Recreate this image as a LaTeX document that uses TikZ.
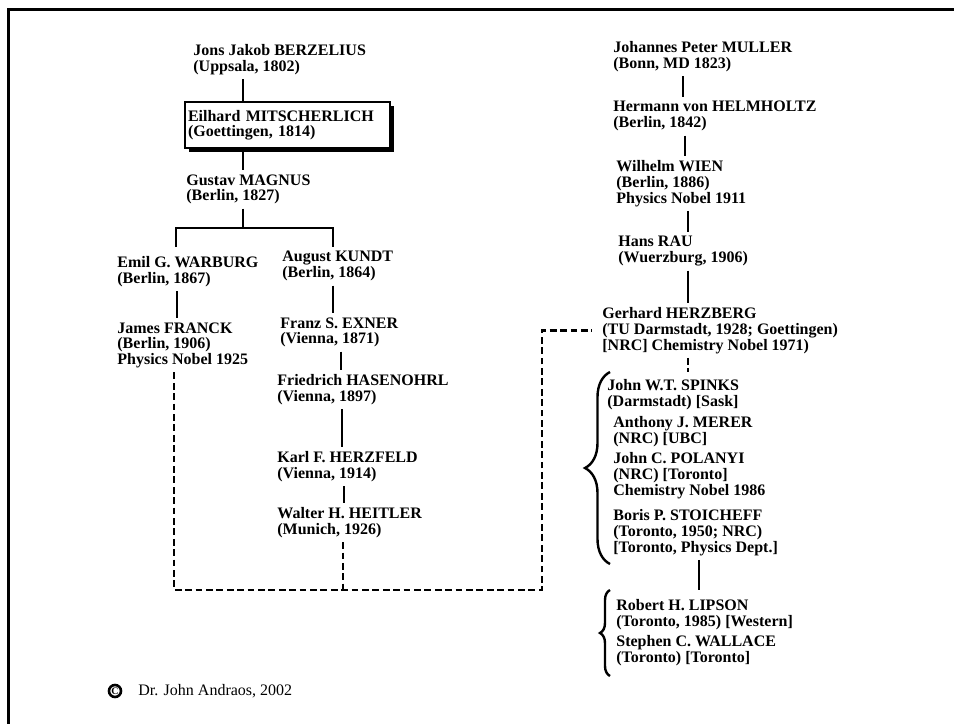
\documentclass[tikz,border=0pt]{standalone}
\usepackage{fontspec}
\setmainfont{Liberation Serif}
\usetikzlibrary{shadows,decorations.pathreplacing}

\begin{document}
\begin{tikzpicture}[x=0.5pt, y=-0.5pt,
  every node/.style={font=\bfseries\fontsize{8pt}{7.9pt}\selectfont},
  person/.style={anchor=north west, align=left, inner xsep=0pt, inner ysep=2pt},
  link/.style={line width=1.25pt},
  dashlink/.style={line width=1.4pt, dash pattern=on 3.4pt off 1.8pt},
  bracelink/.style={line width=1.2pt, decorate, decoration={brace, amplitude=#1}}]

% --------- Page frame ----------
\useasboundingbox (0,0) rectangle (954,724);
\draw[line width=1.5pt] (954,9.5) -- (8.5,9.5) -- (8.5,724);

% --------- Left tree: Berzelius to Heitler ----------
\node[person] (berzelius) at (193,40) {Jons Jakob BERZELIUS\\(Uppsala, 1802)};
\node[person, draw, fill=white, line width=1pt, text width=99.5pt,
      inner xsep=1.5pt, inner ysep=4pt,
      drop shadow={shadow xshift=2pt, shadow yshift=-2pt, fill=black, opacity=1}]
  (mitscherlich) at (184,101) {Eilhard MITSCHERLICH\\(Goettingen, 1814)};
\node[person] (magnus)    at (186,170) {Gustav MAGNUS\\(Berlin, 1827)};
\node[person] (warburg)   at (117,252) {Emil G. WARBURG\\(Berlin, 1867)};
\node[person] (kundt)     at (282,247) {August KUNDT\\(Berlin, 1864)};
\node[person] (franck)    at (117,318) {James FRANCK\\(Berlin, 1906)\\Physics Nobel 1925};
\node[person] (exner)     at (280,313) {Franz S. EXNER\\(Vienna, 1871)};
\node[person] (hasenohrl) at (277,370) {Friedrich HASENOHRL\\(Vienna, 1897)};
\node[person] (herzfeld)  at (277,447) {Karl F. HERZFELD\\(Vienna, 1914)};
\node[person] (heitler)   at (277,503) {Walter H. HEITLER\\(Munich, 1926)};

\draw[link] (berzelius.south -| 243,0) -- (mitscherlich.north -| 243,0);
\draw[link] (mitscherlich.south -| 243,0) -- (magnus.north -| 243,0);

% fork below Magnus
\coordinate (fork)  at (243,228);
\coordinate (forkL) at (176,247);
\coordinate (forkR) at (333,247);
\draw[link] (magnus.south -| fork) -- (fork);
\draw[link] (forkL) |- (fork) -| (forkR);

\draw[link] (warburg.south -| 177,0)   -- (franck.north -| 177,0);
\draw[link] (kundt.south -| 333,0)     -- (exner.north -| 333,0);
\draw[link] (exner.south -| 341,0)     -- (hasenohrl.north -| 341,0);
\draw[link] (hasenohrl.south -| 342,0) -- (herzfeld.north -| 342,0);
\draw[link] (herzfeld.south -| 344,0)  -- (heitler.north -| 344,0);

% --------- Right tree: Muller to Herzberg ----------
\node[person] (muller)    at (613,37)  {Johannes Peter MULLER\\(Bonn, MD 1823)};
\node[person] (helmholtz) at (613,97)  {Hermann von HELMHOLTZ\\(Berlin, 1842)};
\node[person] (wien)      at (616,156) {Wilhelm WIEN\\(Berlin, 1886)\\Physics Nobel 1911};
\node[person] (rau)       at (618,232) {Hans RAU\\(Wuerzburg, 1906)};
\node[person] (herzberg)  at (602,303) {Gerhard HERZBERG\\(TU Darmstadt, 1928; Goettingen)\\{}[NRC] Chemistry Nobel 1971)};

\draw[link] (muller.south -| 683,0)    -- (helmholtz.north -| 683,0);
\draw[link] (helmholtz.south -| 685,0) -- (wien.north -| 685,0);
\draw[link] (wien.south -| 688,0)      -- (rau.north -| 688,0);
\draw[link] (rau.south -| 688,0)       -- (herzberg.north -| 688,0);

% --------- Herzberg students ----------
\node[person] (spinks)    at (607,375) {John W.T. SPINKS\\(Darmstadt) [Sask]};
\node[person] (merer)     at (613,412) {Anthony J. MERER\\(NRC) [UBC]};
\node[person] (polanyi)   at (613,448) {John C. POLANYI\\(NRC) [Toronto]\\Chemistry Nobel 1986};
\node[person] (stoicheff) at (613,505) {Boris P. STOICHEFF\\(Toronto, 1950; NRC)\\{}[Toronto, Physics Dept.]};

\coordinate (b1top) at (610,372);
\coordinate (b1bot) at (610,564);
\draw[bracelink=12.5pt] (b1bot) -- (b1top);
\draw[dashlink] (herzberg.south -| 688,0) -- (b1top -| 688,0);

% --------- Stoicheff students ----------
\node[person] (lipson)  at (616,595) {Robert H. LIPSON\\(Toronto, 1985) [Western]};
\node[person] (wallace) at (616,631) {Stephen C. WALLACE\\(Toronto) [Toronto]};

\coordinate (b2top) at (610,590);
\coordinate (b2bot) at (610,676);
\draw[bracelink=5pt] (b2bot) -- (b2top);
\draw[link] (stoicheff.south -| 699,0) -- (b2top -| 699,0);

% --------- Dashed link: Franck / Heitler to Herzberg ----------
\coordinate (dashbase) at (343,590);
\draw[dashlink] (franck.south -| 174,0) |- (dashbase) -| (herzberg.west -| 542,0)
  -- ([xshift=-5pt]herzberg.west);
\draw[dashlink] (heitler.south -| dashbase) -- (dashbase);

% --------- Credit line ----------
\node[circle, draw, line width=1.3pt, inner sep=0pt, minimum size=6pt,
      font=\bfseries\fontsize{5pt}{5pt}\selectfont] (copysign) at (115,691) {C};
\node[anchor=west, inner sep=0pt, font=\fontsize{8pt}{8pt}\selectfont]
  (credit) at (138,691) {Dr. John Andraos, 2002};

\end{tikzpicture}
\end{document}
